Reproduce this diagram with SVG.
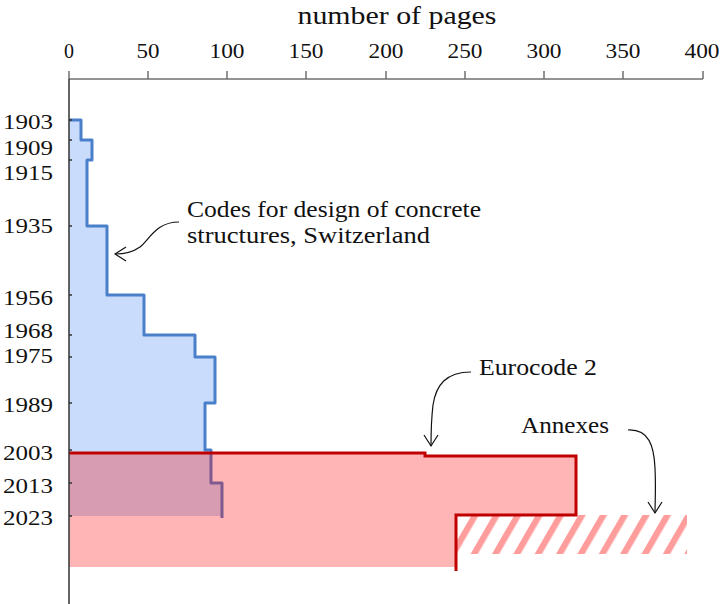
<svg xmlns="http://www.w3.org/2000/svg" width="721" height="604" viewBox="0 0 721 604">
<style>
text{font-family:"Liberation Serif","Times New Roman",serif;fill:#111}
.tick{font-size:20px;text-anchor:middle}
.yr{font-size:22px;text-anchor:end}
.ann{font-size:24px}
.ax{stroke:#707070;stroke-width:1.5;fill:none}
.axv{stroke:#333;stroke-width:1.5;fill:none}
.arr{stroke:#111;stroke-width:1.2;fill:none;marker-end:url(#head)}
</style>
<defs>
<marker id="head" markerUnits="userSpaceOnUse" markerWidth="30" markerHeight="30" refX="0" refY="0" viewBox="-15 -15 30 30" orient="auto">
<path d="M-11,-7 L0,0 L-11,7" fill="none" stroke="#111" stroke-width="1.2"/>
</marker>
<pattern id="hatch" patternUnits="userSpaceOnUse" width="18.5" height="20" patternTransform="rotate(30)">
<rect x="0" y="0" width="6.3" height="20" fill="#ff9c9c"/>
</pattern>
</defs>

<g id="title"><text x="397" y="24" font-size="25" text-anchor="middle" textLength="199" lengthAdjust="spacingAndGlyphs">number of pages</text></g>

<g id="x-axis">
<path class="ax" d="M69,79 H703 M69,71 V79 M148,71 V79 M227,71 V79 M306,71 V79 M386,71 V79 M465,71 V79 M544,71 V79 M623,71 V79 M703,71 V79"/>
<text class="tick" x="69" y="58">0</text>
<text class="tick" x="148" y="58" textLength="23" lengthAdjust="spacingAndGlyphs">50</text>
<text class="tick" x="227" y="58" textLength="35" lengthAdjust="spacingAndGlyphs">100</text>
<text class="tick" x="306" y="58" textLength="35" lengthAdjust="spacingAndGlyphs">150</text>
<text class="tick" x="386" y="58" textLength="35" lengthAdjust="spacingAndGlyphs">200</text>
<text class="tick" x="465" y="58" textLength="35" lengthAdjust="spacingAndGlyphs">250</text>
<text class="tick" x="544" y="58" textLength="35" lengthAdjust="spacingAndGlyphs">300</text>
<text class="tick" x="623" y="58" textLength="35" lengthAdjust="spacingAndGlyphs">350</text>
<text class="tick" x="702" y="58" textLength="35" lengthAdjust="spacingAndGlyphs">400</text>
</g>

<g id="swiss-codes">
<path d="M69,120 H81 V140 H92 V160 H87 V226 H107 V295 H144 V335 H195 V357 H215 V403 H205 V450 H211 V483 H222 V516 H69 Z" fill="#c9dcfb"/>
<path d="M69,120 H81 V140 H92 V160 H87 V226 H107 V295 H144 V335 H195 V357 H215 V403 H205 V450 H211 V483 H222 V518" fill="none" stroke="#4a7fca" stroke-width="3" stroke-linejoin="round"/>
</g>

<g id="annexes">
<rect x="456" y="515" width="231" height="39" fill="url(#hatch)"/>
</g>

<g id="eurocode-2">
<path d="M69,453 H425 V456 H576 V515 H456 V567 H69 Z" fill="#ff0000" fill-opacity="0.29"/>
<path d="M69,453 H425 V456 H576 V515 H456 V571" fill="none" stroke="#c00000" stroke-width="3"/>
</g>

<g id="y-axis">
<path class="axv" d="M69,79 V604 M69,120 H72 M69,140 H72 M69,160 H72 M69,226 H72 M69,295 H72 M69,335 H72 M69,357 H72 M69,403 H72 M69,450 H72 M69,483 H72 M69,516 H72"/>
<text class="yr" x="53" y="129" textLength="50" lengthAdjust="spacingAndGlyphs">1903</text>
<text class="yr" x="53" y="155" textLength="50" lengthAdjust="spacingAndGlyphs">1909</text>
<text class="yr" x="53" y="180" textLength="50" lengthAdjust="spacingAndGlyphs">1915</text>
<text class="yr" x="53" y="233" textLength="50" lengthAdjust="spacingAndGlyphs">1935</text>
<text class="yr" x="53" y="305" textLength="50" lengthAdjust="spacingAndGlyphs">1956</text>
<text class="yr" x="53" y="338" textLength="50" lengthAdjust="spacingAndGlyphs">1968</text>
<text class="yr" x="53" y="363" textLength="50" lengthAdjust="spacingAndGlyphs">1975</text>
<text class="yr" x="53" y="412" textLength="50" lengthAdjust="spacingAndGlyphs">1989</text>
<text class="yr" x="53" y="460" textLength="50" lengthAdjust="spacingAndGlyphs">2003</text>
<text class="yr" x="53" y="493" textLength="50" lengthAdjust="spacingAndGlyphs">2013</text>
<text class="yr" x="53" y="525" textLength="50" lengthAdjust="spacingAndGlyphs">2023</text>
</g>

<g id="label-codes">
<text class="ann" x="187" y="217" textLength="294" lengthAdjust="spacingAndGlyphs">Codes for design of concrete</text>
<text class="ann" x="187" y="243" textLength="243" lengthAdjust="spacingAndGlyphs">structures, Switzerland</text>
</g>
<g id="label-eurocode"><text class="ann" x="479" y="375" textLength="118" lengthAdjust="spacingAndGlyphs">Eurocode 2</text></g>
<g id="label-annexes"><text class="ann" x="521" y="433" textLength="88" lengthAdjust="spacingAndGlyphs">Annexes</text></g>

<g id="connectors">
<path class="arr" d="M179,222 C156,222 150,239 140,247 C133,252 125,254 115,254"/>
<path class="arr" d="M471,372 C446,372 436,385 433,405 C431,422 431,436 431,446"/>
<path class="arr" d="M628,430 C649,429 654,446 655,468 C656,488 655,503 655,513"/>
</g>
</svg>
